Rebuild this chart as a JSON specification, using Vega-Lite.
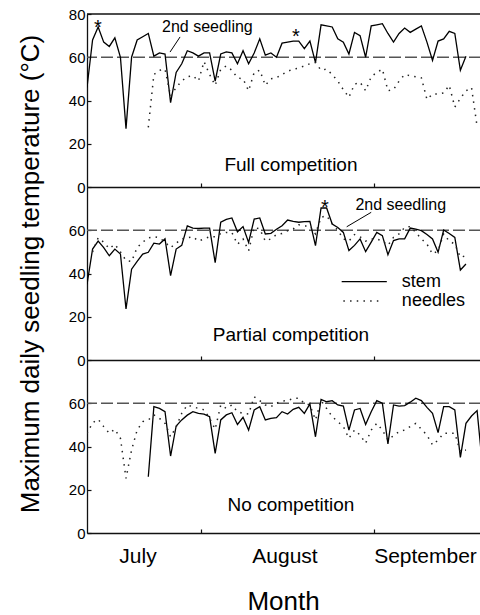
{
  "$schema": "https://vega.github.io/schema/vega-lite/v6.json",
  "background": "white",
  "padding": {"left": 17, "top": 7, "right": 0, "bottom": 0},
  "spacing": 0,
  "bounds": "flush",
  "config": {
    "view": {"stroke": null},
    "font": "Liberation Sans",
    "axis": {
      "grid": false,
      "domainColor": "#111",
      "domainWidth": 1.3,
      "tickColor": "#111",
      "tickWidth": 1.2,
      "labelColor": "#000",
      "titleColor": "#000",
      "labelFont": "Liberation Sans",
      "titleFont": "Liberation Sans",
      "labelFlush": false
    }
  },
  "datasets": {
    "series": [
      {"panel":"full","doy":192,"stem":46},
      {"panel":"full","doy":193,"stem":68},
      {"panel":"full","doy":194,"stem":74},
      {"panel":"full","doy":195,"stem":67},
      {"panel":"full","doy":196,"stem":65},
      {"panel":"full","doy":197,"stem":69},
      {"panel":"full","doy":198,"stem":60},
      {"panel":"full","doy":199,"stem":27},
      {"panel":"full","doy":200,"stem":60},
      {"panel":"full","doy":201,"stem":68},
      {"panel":"full","doy":202,"stem":69.5},
      {"panel":"full","doy":203,"stem":71,"needles":27.6},
      {"panel":"full","doy":204,"stem":60.5,"needles":52},
      {"panel":"full","doy":205,"stem":62,"needles":54},
      {"panel":"full","doy":206,"stem":61.5,"needles":54.5},
      {"panel":"full","doy":207,"stem":39,"needles":42},
      {"panel":"full","doy":208,"stem":53,"needles":46},
      {"panel":"full","doy":209,"stem":57,"needles":49},
      {"panel":"full","doy":210,"stem":63,"needles":51},
      {"panel":"full","doy":211,"stem":62,"needles":51.5},
      {"panel":"full","doy":212,"stem":60.5,"needles":49},
      {"panel":"full","doy":213,"stem":62,"needles":58},
      {"panel":"full","doy":214,"stem":62,"needles":52},
      {"panel":"full","doy":215,"stem":49,"needles":47},
      {"panel":"full","doy":216,"stem":61.5,"needles":54.5},
      {"panel":"full","doy":217,"stem":62.5,"needles":56},
      {"panel":"full","doy":218,"stem":62,"needles":54},
      {"panel":"full","doy":219,"stem":57,"needles":50.5},
      {"panel":"full","doy":220,"stem":63,"needles":50},
      {"panel":"full","doy":221,"stem":57,"needles":44.5},
      {"panel":"full","doy":222,"stem":62,"needles":53},
      {"panel":"full","doy":223,"stem":68.5,"needles":54},
      {"panel":"full","doy":224,"stem":61,"needles":47},
      {"panel":"full","doy":225,"stem":62,"needles":50},
      {"panel":"full","doy":226,"stem":60,"needles":50.5},
      {"panel":"full","doy":227,"stem":66.5,"needles":52},
      {"panel":"full","doy":228,"stem":67,"needles":53.5},
      {"panel":"full","doy":229,"stem":67.5,"needles":54.5},
      {"panel":"full","doy":230,"stem":67.5,"needles":55},
      {"panel":"full","doy":231,"stem":64,"needles":56},
      {"panel":"full","doy":232,"stem":67.5,"needles":57},
      {"panel":"full","doy":233,"stem":57.5,"needles":57.5},
      {"panel":"full","doy":234,"stem":75,"needles":54},
      {"panel":"full","doy":235,"stem":74.5,"needles":54.5},
      {"panel":"full","doy":236,"stem":74,"needles":52},
      {"panel":"full","doy":237,"stem":68.5,"needles":49},
      {"panel":"full","doy":238,"stem":67,"needles":45},
      {"panel":"full","doy":239,"stem":61.5,"needles":41.5},
      {"panel":"full","doy":240,"stem":71.5,"needles":47.5},
      {"panel":"full","doy":241,"stem":70,"needles":48.5},
      {"panel":"full","doy":242,"stem":60,"needles":44.5},
      {"panel":"full","doy":243,"stem":74.5,"needles":51},
      {"panel":"full","doy":244,"stem":75,"needles":53},
      {"panel":"full","doy":245,"stem":75.5,"needles":54.5},
      {"panel":"full","doy":246,"stem":71,"needles":44.5},
      {"panel":"full","doy":247,"stem":67,"needles":45},
      {"panel":"full","doy":248,"stem":71,"needles":49},
      {"panel":"full","doy":249,"stem":73.5,"needles":52},
      {"panel":"full","doy":250,"stem":71.5,"needles":51.5},
      {"panel":"full","doy":251,"stem":73,"needles":51},
      {"panel":"full","doy":252,"stem":74.5,"needles":50.5},
      {"panel":"full","doy":253,"stem":67,"needles":40.5},
      {"panel":"full","doy":254,"stem":58.5,"needles":43},
      {"panel":"full","doy":255,"stem":67.5,"needles":43},
      {"panel":"full","doy":256,"stem":68.5,"needles":43.5},
      {"panel":"full","doy":257,"stem":72,"needles":47},
      {"panel":"full","doy":258,"stem":71,"needles":37},
      {"panel":"full","doy":259,"stem":54,"needles":41},
      {"panel":"full","doy":260,"stem":60.5,"needles":44.5},
      {"panel":"full","doy":261,"needles":46},
      {"panel":"full","doy":262,"needles":28},

      {"panel":"partial","doy":192,"stem":35},
      {"panel":"partial","doy":193,"stem":51.3,"needles":50},
      {"panel":"partial","doy":194,"stem":55,"needles":56.5},
      {"panel":"partial","doy":195,"stem":52,"needles":54.5},
      {"panel":"partial","doy":196,"stem":48.2,"needles":51.5},
      {"panel":"partial","doy":197,"stem":51.3,"needles":53.5},
      {"panel":"partial","doy":198,"stem":49,"needles":50},
      {"panel":"partial","doy":199,"stem":23.6,"needles":46},
      {"panel":"partial","doy":200,"stem":42,"needles":45.5},
      {"panel":"partial","doy":201,"stem":45.6,"needles":52},
      {"panel":"partial","doy":202,"stem":49,"needles":54.5},
      {"panel":"partial","doy":203,"stem":49.8,"needles":56.5},
      {"panel":"partial","doy":204,"stem":54,"needles":57},
      {"panel":"partial","doy":205,"stem":53.6,"needles":56.5},
      {"panel":"partial","doy":206,"stem":56,"needles":54.5},
      {"panel":"partial","doy":207,"stem":39,"needles":52},
      {"panel":"partial","doy":208,"stem":51.3,"needles":54},
      {"panel":"partial","doy":209,"stem":53,"needles":56},
      {"panel":"partial","doy":210,"stem":62,"needles":56.5},
      {"panel":"partial","doy":211,"stem":61,"needles":57},
      {"panel":"partial","doy":212,"stem":60.8,"needles":55},
      {"panel":"partial","doy":213,"stem":61,"needles":56},
      {"panel":"partial","doy":214,"stem":61,"needles":57},
      {"panel":"partial","doy":215,"stem":45,"needles":57},
      {"panel":"partial","doy":216,"stem":63.7,"needles":58.5},
      {"panel":"partial","doy":217,"stem":65,"needles":59},
      {"panel":"partial","doy":218,"stem":65.7,"needles":59},
      {"panel":"partial","doy":219,"stem":59.3,"needles":53.5},
      {"panel":"partial","doy":220,"stem":61.7,"needles":56},
      {"panel":"partial","doy":221,"stem":54.4,"needles":50.5},
      {"panel":"partial","doy":222,"stem":65.2,"needles":61.3},
      {"panel":"partial","doy":223,"stem":65.7,"needles":60.6},
      {"panel":"partial","doy":224,"stem":58.3,"needles":55},
      {"panel":"partial","doy":225,"stem":58.6,"needles":56},
      {"panel":"partial","doy":226,"stem":60.5,"needles":58},
      {"panel":"partial","doy":227,"stem":62.1,"needles":58.5},
      {"panel":"partial","doy":228,"stem":64.7,"needles":59.8},
      {"panel":"partial","doy":229,"stem":64.1,"needles":60.6},
      {"panel":"partial","doy":230,"stem":63.7,"needles":62.5},
      {"panel":"partial","doy":231,"stem":64,"needles":62},
      {"panel":"partial","doy":232,"stem":64.1,"needles":62},
      {"panel":"partial","doy":233,"stem":52.9,"needles":58.3},
      {"panel":"partial","doy":234,"stem":70.3,"needles":66},
      {"panel":"partial","doy":235,"stem":70.3,"needles":66.7},
      {"panel":"partial","doy":236,"stem":62.9,"needles":63},
      {"panel":"partial","doy":237,"stem":61.3,"needles":60},
      {"panel":"partial","doy":238,"stem":59,"needles":56},
      {"panel":"partial","doy":239,"stem":50.6,"needles":55},
      {"panel":"partial","doy":240,"stem":53,"needles":58},
      {"panel":"partial","doy":241,"stem":56,"needles":57},
      {"panel":"partial","doy":242,"stem":50.1,"needles":55},
      {"panel":"partial","doy":243,"stem":54.5,"needles":56},
      {"panel":"partial","doy":244,"stem":59,"needles":56},
      {"panel":"partial","doy":245,"stem":57.5,"needles":55},
      {"panel":"partial","doy":246,"stem":48.7,"needles":53},
      {"panel":"partial","doy":247,"stem":55.2,"needles":56.7},
      {"panel":"partial","doy":248,"stem":56,"needles":58.3},
      {"panel":"partial","doy":249,"stem":56,"needles":61.3},
      {"panel":"partial","doy":250,"stem":61,"needles":61.7},
      {"panel":"partial","doy":251,"stem":60.5,"needles":59},
      {"panel":"partial","doy":252,"stem":59.8,"needles":56},
      {"panel":"partial","doy":253,"stem":58,"needles":53.6},
      {"panel":"partial","doy":254,"stem":56,"needles":49},
      {"panel":"partial","doy":255,"stem":49.8,"needles":50.6},
      {"panel":"partial","doy":256,"stem":60.1,"needles":58.3},
      {"panel":"partial","doy":257,"stem":58.5,"needles":55},
      {"panel":"partial","doy":258,"stem":56.7,"needles":53.6},
      {"panel":"partial","doy":259,"stem":41.6,"needles":47.5},
      {"panel":"partial","doy":260,"stem":44.4,"needles":48.2},

      {"panel":"none","doy":192,"needles":46},
      {"panel":"none","doy":193,"needles":51},
      {"panel":"none","doy":194,"needles":52.6},
      {"panel":"none","doy":195,"needles":49.2},
      {"panel":"none","doy":196,"needles":46.1},
      {"panel":"none","doy":197,"needles":48},
      {"panel":"none","doy":198,"needles":43.8},
      {"panel":"none","doy":199,"needles":25.3},
      {"panel":"none","doy":200,"needles":38.4},
      {"panel":"none","doy":201,"needles":47.6},
      {"panel":"none","doy":202,"needles":51.5},
      {"panel":"none","doy":203,"stem":26,"needles":52.3},
      {"panel":"none","doy":204,"stem":58.4,"needles":54.6},
      {"panel":"none","doy":205,"stem":57.6,"needles":53},
      {"panel":"none","doy":206,"stem":56.1,"needles":50.7},
      {"panel":"none","doy":207,"stem":35.6,"needles":44.5},
      {"panel":"none","doy":208,"stem":49.5,"needles":49},
      {"panel":"none","doy":209,"stem":52.3,"needles":55.3},
      {"panel":"none","doy":210,"stem":54.5,"needles":59.2},
      {"panel":"none","doy":211,"stem":56.1,"needles":58.4},
      {"panel":"none","doy":212,"stem":55.3,"needles":57.6},
      {"panel":"none","doy":213,"stem":55,"needles":57},
      {"panel":"none","doy":214,"stem":53.8,"needles":53},
      {"panel":"none","doy":215,"stem":36.8,"needles":48},
      {"panel":"none","doy":216,"stem":52.3,"needles":59.2},
      {"panel":"none","doy":217,"stem":54.6,"needles":57.6},
      {"panel":"none","doy":218,"stem":55.6,"needles":59.2},
      {"panel":"none","doy":219,"stem":50.2,"needles":56.1},
      {"panel":"none","doy":220,"stem":53.5,"needles":55.3},
      {"panel":"none","doy":221,"stem":47.6,"needles":55},
      {"panel":"none","doy":222,"stem":56.9,"needles":63},
      {"panel":"none","doy":223,"stem":58.4,"needles":61.2},
      {"panel":"none","doy":224,"stem":52.3,"needles":59.2},
      {"panel":"none","doy":225,"stem":53,"needles":58.4},
      {"panel":"none","doy":226,"stem":53.3,"needles":60},
      {"panel":"none","doy":227,"stem":56.1,"needles":61},
      {"panel":"none","doy":228,"stem":55,"needles":61.2},
      {"panel":"none","doy":229,"stem":57.2,"needles":62.3},
      {"panel":"none","doy":230,"stem":58.1,"needles":62.3},
      {"panel":"none","doy":231,"stem":55.3,"needles":60},
      {"panel":"none","doy":232,"stem":59.7,"needles":59.2},
      {"panel":"none","doy":233,"stem":44.5,"needles":52.3},
      {"panel":"none","doy":234,"stem":61.8,"needles":61.2},
      {"panel":"none","doy":235,"stem":60.7,"needles":57.6},
      {"panel":"none","doy":236,"stem":61.2,"needles":53.8},
      {"panel":"none","doy":237,"stem":59.2,"needles":51.5},
      {"panel":"none","doy":238,"stem":58.7,"needles":49.2},
      {"panel":"none","doy":239,"stem":47.6,"needles":43.8},
      {"panel":"none","doy":240,"stem":56.9,"needles":47.6},
      {"panel":"none","doy":241,"stem":57.6,"needles":45.3},
      {"panel":"none","doy":242,"stem":50.2,"needles":41.5},
      {"panel":"none","doy":243,"stem":56.1,"needles":47.6},
      {"panel":"none","doy":244,"stem":61.2,"needles":50.7},
      {"panel":"none","doy":245,"stem":60,"needles":47.6},
      {"panel":"none","doy":246,"stem":41.2,"needles":43},
      {"panel":"none","doy":247,"stem":59.2,"needles":45},
      {"panel":"none","doy":248,"stem":58.7,"needles":46.9},
      {"panel":"none","doy":249,"stem":58.9,"needles":47.6},
      {"panel":"none","doy":250,"stem":60.5,"needles":49.2},
      {"panel":"none","doy":251,"stem":62.3,"needles":50.7},
      {"panel":"none","doy":252,"stem":61.2,"needles":48},
      {"panel":"none","doy":253,"stem":58.1,"needles":45.3},
      {"panel":"none","doy":254,"stem":55.3,"needles":40.7},
      {"panel":"none","doy":255,"stem":46.4,"needles":43},
      {"panel":"none","doy":256,"stem":58.4,"needles":46.1},
      {"panel":"none","doy":257,"stem":58.4,"needles":46.1},
      {"panel":"none","doy":258,"stem":56.9,"needles":46.1},
      {"panel":"none","doy":259,"stem":35,"needles":37.6},
      {"panel":"none","doy":260,"stem":50.7,"needles":38.4},
      {"panel":"none","doy":261,"stem":54.1},
      {"panel":"none","doy":262,"stem":56.6},
      {"panel":"none","doy":263,"stem":30}
    ],
    "notes": [
      {"panel":"full","kind":"threshold","temp":60},
      {"panel":"full","kind":"frame","temp":80},
      {"panel":"full","kind":"asterisk","doy":193.97,"temp":70.9,"text":"*"},
      {"panel":"full","kind":"asterisk","doy":229.5,"temp":66.8,"text":"*"},
      {"panel":"full","kind":"seedling","doy":213.6,"temp":71.8,"text":"2nd seedling"},
      {"panel":"full","kind":"leader","doy":208.7,"temp":69.4,"doy2":206.9,"temp2":62.4},
      {"panel":"full","kind":"title","doy":228.6,"temp":7.5,"text":"Full competition"},

      {"panel":"partial","kind":"threshold","temp":60},
      {"panel":"partial","kind":"asterisk","doy":234.7,"temp":67.6,"text":"*"},
      {"panel":"partial","kind":"seedling","doy":248.3,"temp":69.4,"text":"2nd seedling"},
      {"panel":"partial","kind":"leader","doy":243.0,"temp":68.3,"doy2":238.6,"temp2":61.6},
      {"panel":"partial","kind":"key_stem","doy":237.7,"doy2":245.8,"temp":36.2},
      {"panel":"partial","kind":"key_needles","doy":238.0,"doy2":244.6,"temp":27.3},
      {"panel":"partial","kind":"key_text","doy":248.5,"temp":33.9,"text":"stem"},
      {"panel":"partial","kind":"key_text","doy":248.5,"temp":25.1,"text":"needles"},
      {"panel":"partial","kind":"title","doy":228.6,"temp":8.9,"text":"Partial competition"},

      {"panel":"none","kind":"threshold","temp":60},
      {"panel":"none","kind":"title","doy":228.6,"temp":10.3,"text":"No competition"}
    ]
  },
  "vconcat": [
    {
      "width": 394,
      "height": 173,
      "layer": [
        {
          "data": {"name": "notes"},
          "transform": [{"filter": "datum.panel === 'full' && datum.kind === 'threshold'"}],
          "mark": {"type": "rule", "color": "#555", "strokeWidth": 1.3, "strokeDash": [12, 4]},
          "encoding": {"y": {"field": "temp", "type": "quantitative", "scale": {"domain": [0, 80], "nice": false}}}
        },
        {
          "data": {"name": "notes"},
          "transform": [{"filter": "datum.panel === 'full' && datum.kind === 'frame'"}],
          "mark": {"type": "rule", "color": "#111", "strokeWidth": 1.3},
          "encoding": {"y": {"field": "temp", "type": "quantitative", "scale": {"domain": [0, 80], "nice": false}}}
        },
        {
          "data": {"name": "series"},
          "transform": [{"filter": "datum.panel === 'full' && isValid(datum.stem)"}],
          "mark": {"type": "line", "color": "#000", "strokeWidth": 1.3, "clip": true},
          "encoding": {
            "x": {"field": "doy", "type": "quantitative", "scale": {"domain": [192, 262.7], "nice": false, "zero": false},
                  "axis": {"values": [212.5, 243.5], "labels": false, "tickSize": -4, "title": null}},
            "y": {"field": "stem", "type": "quantitative", "scale": {"domain": [0, 80], "nice": false},
                  "axis": {"values": [0, 20, 40, 60, 80], "tickSize": -4, "labelPadding": 6, "labelFontSize": 15, "title": null}}
          }
        },
        {
          "data": {"name": "series"},
          "transform": [{"filter": "datum.panel === 'full' && isValid(datum.needles)"}],
          "mark": {"type": "line", "color": "#222", "strokeWidth": 1.5, "strokeDash": [1.5, 5.2], "clip": true},
          "encoding": {
            "x": {"field": "doy", "type": "quantitative", "scale": {"domain": [192, 262.7], "nice": false, "zero": false}},
            "y": {"field": "needles", "type": "quantitative", "scale": {"domain": [0, 80], "nice": false}}
          }
        },
        {
          "data": {"name": "notes"},
          "transform": [{"filter": "datum.panel === 'full' && datum.kind === 'leader'"}],
          "mark": {"type": "rule", "color": "#000", "strokeWidth": 1},
          "encoding": {
            "x": {"field": "doy", "type": "quantitative", "scale": {"domain": [192, 262.7], "nice": false, "zero": false}},
            "y": {"field": "temp", "type": "quantitative", "scale": {"domain": [0, 80], "nice": false}},
            "x2": {"field": "doy2"},
            "y2": {"field": "temp2"}
          }
        },
        {
          "data": {"name": "notes"},
          "transform": [{"filter": "datum.panel === 'full' && datum.kind === 'asterisk'"}],
          "mark": {"type": "text", "fontSize": 20, "align": "center", "baseline": "alphabetic", "color": "#000"},
          "encoding": {
            "x": {"field": "doy", "type": "quantitative", "scale": {"domain": [192, 262.7], "nice": false, "zero": false}},
            "y": {"field": "temp", "type": "quantitative", "scale": {"domain": [0, 80], "nice": false}},
            "text": {"field": "text"}
          }
        },
        {
          "data": {"name": "notes"},
          "transform": [{"filter": "datum.panel === 'full' && datum.kind === 'seedling'"}],
          "mark": {"type": "text", "fontSize": 16, "align": "center", "baseline": "alphabetic", "color": "#000"},
          "encoding": {
            "x": {"field": "doy", "type": "quantitative", "scale": {"domain": [192, 262.7], "nice": false, "zero": false}},
            "y": {"field": "temp", "type": "quantitative", "scale": {"domain": [0, 80], "nice": false}},
            "text": {"field": "text"}
          }
        },
        {
          "data": {"name": "notes"},
          "transform": [{"filter": "datum.panel === 'full' && datum.kind === 'title'"}],
          "mark": {"type": "text", "fontSize": 19, "align": "center", "baseline": "alphabetic", "color": "#000"},
          "encoding": {
            "x": {"field": "doy", "type": "quantitative", "scale": {"domain": [192, 262.7], "nice": false, "zero": false}},
            "y": {"field": "temp", "type": "quantitative", "scale": {"domain": [0, 80], "nice": false}},
            "text": {"field": "text"}
          }
        }
      ]
    },
    {
      "width": 394,
      "height": 173,
      "layer": [
        {
          "data": {"name": "notes"},
          "transform": [{"filter": "datum.panel === 'partial' && datum.kind === 'threshold'"}],
          "mark": {"type": "rule", "color": "#555", "strokeWidth": 1.3, "strokeDash": [12, 4]},
          "encoding": {"y": {"field": "temp", "type": "quantitative", "scale": {"domain": [0, 80], "nice": false}}}
        },
        {
          "data": {"name": "series"},
          "transform": [{"filter": "datum.panel === 'partial' && isValid(datum.stem)"}],
          "mark": {"type": "line", "color": "#000", "strokeWidth": 1.3, "clip": true},
          "encoding": {
            "x": {"field": "doy", "type": "quantitative", "scale": {"domain": [192, 262.7], "nice": false, "zero": false},
                  "axis": {"values": [212.5, 243.5], "labels": false, "tickSize": -4, "title": null}},
            "y": {"field": "stem", "type": "quantitative", "scale": {"domain": [0, 80], "nice": false},
                  "axis": {"values": [0, 20, 40, 60], "tickSize": -4, "labelPadding": 6, "labelFontSize": 15,
                           "title": "Maximum daily seedling temperature (°C)", "titleFontSize": 26, "titleFontWeight": "normal",
                           "titleBaseline": "alphabetic", "titleAngle": -90, "titleAlign": "center", "titleX": -48.5, "titleY": 86.5}}
          }
        },
        {
          "data": {"name": "series"},
          "transform": [{"filter": "datum.panel === 'partial' && isValid(datum.needles)"}],
          "mark": {"type": "line", "color": "#222", "strokeWidth": 1.5, "strokeDash": [1.5, 5.2], "clip": true},
          "encoding": {
            "x": {"field": "doy", "type": "quantitative", "scale": {"domain": [192, 262.7], "nice": false, "zero": false}},
            "y": {"field": "needles", "type": "quantitative", "scale": {"domain": [0, 80], "nice": false}}
          }
        },
        {
          "data": {"name": "notes"},
          "transform": [{"filter": "datum.panel === 'partial' && datum.kind === 'leader'"}],
          "mark": {"type": "rule", "color": "#000", "strokeWidth": 1},
          "encoding": {
            "x": {"field": "doy", "type": "quantitative", "scale": {"domain": [192, 262.7], "nice": false, "zero": false}},
            "y": {"field": "temp", "type": "quantitative", "scale": {"domain": [0, 80], "nice": false}},
            "x2": {"field": "doy2"},
            "y2": {"field": "temp2"}
          }
        },
        {
          "data": {"name": "notes"},
          "transform": [{"filter": "datum.panel === 'partial' && datum.kind === 'key_stem'"}],
          "mark": {"type": "rule", "color": "#000", "strokeWidth": 1.3},
          "encoding": {
            "x": {"field": "doy", "type": "quantitative", "scale": {"domain": [192, 262.7], "nice": false, "zero": false}},
            "y": {"field": "temp", "type": "quantitative", "scale": {"domain": [0, 80], "nice": false}},
            "x2": {"field": "doy2"}
          }
        },
        {
          "data": {"name": "notes"},
          "transform": [{"filter": "datum.panel === 'partial' && datum.kind === 'key_needles'"}],
          "mark": {"type": "rule", "color": "#222", "strokeWidth": 1.5, "strokeDash": [1.5, 5.2]},
          "encoding": {
            "x": {"field": "doy", "type": "quantitative", "scale": {"domain": [192, 262.7], "nice": false, "zero": false}},
            "y": {"field": "temp", "type": "quantitative", "scale": {"domain": [0, 80], "nice": false}},
            "x2": {"field": "doy2"}
          }
        },
        {
          "data": {"name": "notes"},
          "transform": [{"filter": "datum.panel === 'partial' && datum.kind === 'asterisk'"}],
          "mark": {"type": "text", "fontSize": 20, "align": "center", "baseline": "alphabetic", "color": "#000"},
          "encoding": {
            "x": {"field": "doy", "type": "quantitative", "scale": {"domain": [192, 262.7], "nice": false, "zero": false}},
            "y": {"field": "temp", "type": "quantitative", "scale": {"domain": [0, 80], "nice": false}},
            "text": {"field": "text"}
          }
        },
        {
          "data": {"name": "notes"},
          "transform": [{"filter": "datum.panel === 'partial' && datum.kind === 'seedling'"}],
          "mark": {"type": "text", "fontSize": 16, "align": "center", "baseline": "alphabetic", "color": "#000"},
          "encoding": {
            "x": {"field": "doy", "type": "quantitative", "scale": {"domain": [192, 262.7], "nice": false, "zero": false}},
            "y": {"field": "temp", "type": "quantitative", "scale": {"domain": [0, 80], "nice": false}},
            "text": {"field": "text"}
          }
        },
        {
          "data": {"name": "notes"},
          "transform": [{"filter": "datum.panel === 'partial' && datum.kind === 'key_text'"}],
          "mark": {"type": "text", "fontSize": 18, "align": "left", "baseline": "alphabetic", "color": "#000"},
          "encoding": {
            "x": {"field": "doy", "type": "quantitative", "scale": {"domain": [192, 262.7], "nice": false, "zero": false}},
            "y": {"field": "temp", "type": "quantitative", "scale": {"domain": [0, 80], "nice": false}},
            "text": {"field": "text"}
          }
        },
        {
          "data": {"name": "notes"},
          "transform": [{"filter": "datum.panel === 'partial' && datum.kind === 'title'"}],
          "mark": {"type": "text", "fontSize": 19, "align": "center", "baseline": "alphabetic", "color": "#000"},
          "encoding": {
            "x": {"field": "doy", "type": "quantitative", "scale": {"domain": [192, 262.7], "nice": false, "zero": false}},
            "y": {"field": "temp", "type": "quantitative", "scale": {"domain": [0, 80], "nice": false}},
            "text": {"field": "text"}
          }
        }
      ]
    },
    {
      "width": 394,
      "height": 173,
      "layer": [
        {
          "data": {"name": "notes"},
          "transform": [{"filter": "datum.panel === 'none' && datum.kind === 'threshold'"}],
          "mark": {"type": "rule", "color": "#555", "strokeWidth": 1.3, "strokeDash": [12, 4]},
          "encoding": {"y": {"field": "temp", "type": "quantitative", "scale": {"domain": [0, 80], "nice": false}}}
        },
        {
          "data": {"name": "series"},
          "transform": [{"filter": "datum.panel === 'none' && isValid(datum.stem)"}],
          "mark": {"type": "line", "color": "#000", "strokeWidth": 1.3, "clip": true},
          "encoding": {
            "x": {"field": "doy", "type": "quantitative", "scale": {"domain": [192, 262.7], "nice": false, "zero": false},
                  "axis": {"values": [201.06, 212.5, 227.44, 243.5, 252.65],
                           "labelExpr": "datum.value < 205 ? 'July' : (datum.value > 220 && datum.value < 235) ? 'August' : datum.value > 250 ? 'September' : ''",
                           "tickOpacity": {"condition": {"test": "datum.value == 212.5 || datum.value == 243.5", "value": 1}, "value": 0},
                           "tickSize": -4, "labelFontSize": 21, "labelBaseline": "alphabetic", "labelPadding": 33,
                           "labelOverlap": false, "labelBound": false,
                           "title": "Month", "titleFontSize": 26, "titleFontWeight": "normal", "titleBaseline": "alphabetic",
                           "titleAlign": "center", "titleX": 196, "titleY": 76}},
            "y": {"field": "stem", "type": "quantitative", "scale": {"domain": [0, 80], "nice": false},
                  "axis": {"values": [0, 20, 40, 60], "tickSize": -4, "labelPadding": 6, "labelFontSize": 15, "title": null}}
          }
        },
        {
          "data": {"name": "series"},
          "transform": [{"filter": "datum.panel === 'none' && isValid(datum.needles)"}],
          "mark": {"type": "line", "color": "#222", "strokeWidth": 1.5, "strokeDash": [1.5, 5.2], "clip": true},
          "encoding": {
            "x": {"field": "doy", "type": "quantitative", "scale": {"domain": [192, 262.7], "nice": false, "zero": false}},
            "y": {"field": "needles", "type": "quantitative", "scale": {"domain": [0, 80], "nice": false}}
          }
        },
        {
          "data": {"name": "notes"},
          "transform": [{"filter": "datum.panel === 'none' && datum.kind === 'title'"}],
          "mark": {"type": "text", "fontSize": 19, "align": "center", "baseline": "alphabetic", "color": "#000"},
          "encoding": {
            "x": {"field": "doy", "type": "quantitative", "scale": {"domain": [192, 262.7], "nice": false, "zero": false}},
            "y": {"field": "temp", "type": "quantitative", "scale": {"domain": [0, 80], "nice": false}},
            "text": {"field": "text"}
          }
        }
      ]
    }
  ]
}
